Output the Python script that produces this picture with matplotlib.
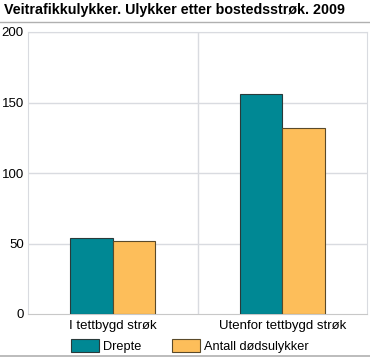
import matplotlib
matplotlib.use("Agg")
import matplotlib.pyplot as plt
import numpy as np

categories = ["I tettbygd strøk", "Utenfor tettbygd strøk"]
series_names = ["Drepte", "Antall dødsulykker"]
drepte = [54, 156]
dodsulykker = [52, 132]
yticks = [0, 50, 100, 150, 200]
title = "Veitrafikkulykker. Ulykker etter bostedsstrøk. 2009"

plt.rcParams['font.family'] = ['Liberation Sans', 'DejaVu Sans']

W, H = 370, 358
fig = plt.figure(figsize=(W/100, H/100), dpi=100)
ax = fig.add_axes([28/W, 1-314/H, (367-28)/W, (314-32)/H])

x = np.arange(len(categories))
bw = 0.25
ax.bar(x - bw/2, drepte, bw, color="#008894", edgecolor="#2a3a3a", linewidth=0.8, zorder=3, label=series_names[0])
ax.bar(x + bw/2, dodsulykker, bw, color="#FDBE5A", edgecolor="#5a4a2a", linewidth=0.8, zorder=3, label=series_names[1])

ax.set_xlim(-0.5, 1.5)
ax.set_ylim(0, 200)
ax.set_yticks(yticks)
ax.set_yticklabels([str(v) for v in yticks], fontsize=9.5)
ax.set_xticks(x)
ax.set_xticklabels(categories, fontsize=9.5)
ax.tick_params(axis='both', length=0, pad=4)
ax.tick_params(axis='y', pad=3)
for v in yticks[1:]:
    ax.axhline(v, color="#d9dbe0", linewidth=1, zorder=1)
ax.axvline(0.5, color="#d9dbe0", linewidth=1, zorder=1)
for s in ["top", "left", "right"]:
    ax.spines[s].set_color("#d9dbe0")
ax.spines["bottom"].set_color("#c8c8c8")

fig.text(4/W, 1-10/H, title, fontsize=10.3, fontweight="bold", va="center", ha="left")
fig.add_artist(plt.Line2D([0, 1], [1-22/H, 1-22/H], color="#b0b0b0", linewidth=1))
fig.add_artist(plt.Line2D([0, 1], [1-356/H, 1-356/H], color="#b0b0b0", linewidth=1.2))

leg = fig.legend(loc="center", bbox_to_anchor=(190/W, 1-346/H), ncol=2, frameon=False,
                 fontsize=9.2, handlelength=2.2, handleheight=1.1, columnspacing=2.4, handletextpad=0.3)

fig.savefig("out.png", dpi=100)
